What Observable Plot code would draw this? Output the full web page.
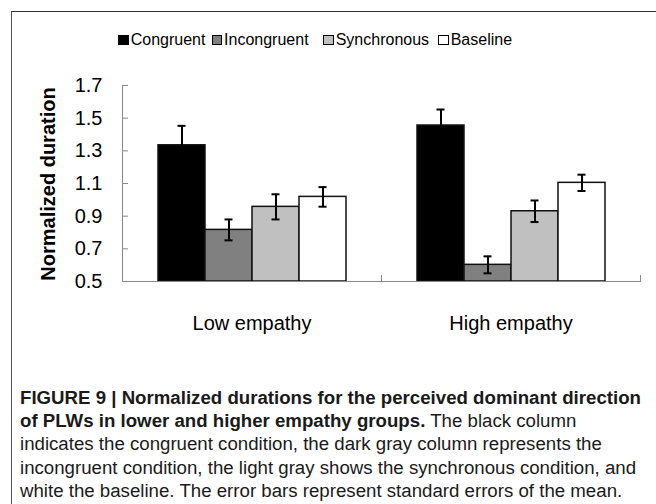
<!DOCTYPE html>
<html><head><meta charset="utf-8">
<script src="https://cdn.jsdelivr.net/npm/d3@7"></script>
<script src="https://cdn.jsdelivr.net/npm/@observablehq/plot@0.6"></script>
<style>
body{margin:0;background:#fff;}
#page{position:relative;width:656px;height:504px;overflow:hidden;font-family:"Liberation Sans",Arial,sans-serif;color:#000;}
#frame{position:absolute;left:10.5px;top:10.5px;width:700px;height:600px;border-top:1.5px solid #333;border-left:1.5px solid #555;}
.item{position:absolute;top:30.4px;height:20px;white-space:nowrap;font-size:16px;line-height:20px;}
.sw{position:absolute;left:0;top:4.6px;width:8.5px;height:8.5px;border:1px solid #000;}
.lt{position:absolute;left:12.4px;top:0;}
#ylabel{position:absolute;left:-82.5px;top:174px;width:260px;height:20px;line-height:20px;text-align:center;font-weight:bold;font-size:20px;transform:rotate(-90deg);white-space:nowrap;}
#chart{position:absolute;left:0;top:70px;}
#caption{position:absolute;left:20px;top:387px;font-family:"Liberation Sans",Arial,sans-serif;font-size:18px;line-height:23.2px;white-space:nowrap;color:#1a1a1a;transform-origin:0 0;}
#caption div{height:23.2px;}
</style></head>
<body><div id="page"><div id="frame"></div><div id="legend"></div><div id="ylabel">Normalized duration</div><div id="chart"></div>
<div id="caption"><div><span id="cap1"><b>FIGURE 9 | Normalized durations for the perceived dominant direction</b></span></div><div><b>of PLWs in lower and higher empathy groups.</b> The black column</div><div>indicates the congruent condition, the dark gray column represents the</div><div>incongruent condition, the light gray shows the synchronous condition, and</div><div>white the baseline. The error bars represent standard errors of the mean.</div></div>
</div>
<script>
const groups = ["Low empathy", "High empathy"];
const conditions = ["Congruent", "Incongruent", "Synchronous", "Baseline"];
const colors = ["#000000", "#808080", "#c0c0c0", "#ffffff"];
const lowMeans = [1.334, 0.816, 0.957, 1.018];
const lowSE = [0.119, 0.064, 0.077, 0.060];
const highMeans = [1.455, 0.602, 0.930, 1.104];
const highSE = [0.098, 0.052, 0.066, 0.050];
const yTicks = [0.5, 0.7, 0.9, 1.1, 1.3, 1.5, 1.7];

const data = [];
conditions.forEach((c, i) => {
  data.push({group: groups[0], condition: c, value: lowMeans[i], se: lowSE[i]});
  data.push({group: groups[1], condition: c, value: highMeans[i], se: highSE[i]});
});

// legend
const legendLeft = [118.3, 211.7, 323.3, 438.3];
const legend = document.getElementById("legend");
conditions.forEach((c, i) => {
  const it = document.createElement("div");
  it.className = "item";
  it.style.left = legendLeft[i] + "px";
  it.innerHTML = `<span class="sw" style="background:${colors[i]}"></span><span class="lt">${c}</span>`;
  legend.appendChild(it);
});

// condensed caption: fit first line to its width in the reference
const cap = document.getElementById("caption");
const w1 = document.getElementById("cap1").getBoundingClientRect().width;
cap.style.transform = `scaleX(${621 / w1})`;

const plot = Plot.plot({
  width: 656,
  height: 270,
  marginLeft: 121,
  marginRight: 16,
  marginTop: 15,
  marginBottom: 59,
  style: {fontFamily: "'Liberation Sans', Arial, sans-serif", background: "transparent"},
  fx: {domain: groups, padding: 0, label: null},
  x: {domain: conditions, paddingInner: 0, paddingOuter: 0.75, axis: null},
  y: {domain: [0.5, 1.7], label: null},
  color: {domain: conditions, range: colors},
  marks: [
    Plot.barY(data, {fx: "group", x: "condition", y1: 0.5, y2: "value", fill: "condition", stroke: "#111", strokeWidth: 1.5}),
    Plot.ruleX(data, {fx: "group", x: "condition", y1: d => d.value - d.se, y2: d => d.value + d.se, stroke: "#000", strokeWidth: 2}),
    Plot.tickY(data, {fx: "group", x: "condition", y: d => d.value + d.se, insetLeft: 19.5, insetRight: 19.5, stroke: "#000", strokeWidth: 2}),
    Plot.tickY(data, {fx: "group", x: "condition", y: d => d.value - d.se, insetLeft: 19.5, insetRight: 19.5, stroke: "#000", strokeWidth: 2}),
    Plot.ruleY([0.5], {stroke: "#888", strokeWidth: 1}),
    Plot.frame({anchor: "left", facet: "super", stroke: "#888", strokeWidth: 1}),
    Plot.frame({anchor: "right", insetTop: 190, stroke: "#888", strokeWidth: 1}),
    Plot.axisY(yTicks, {tickSize: -6, stroke: "#888", tickFormat: () => "", label: null}),
    Plot.axisY(yTicks, {tickSize: 0, tickPadding: 20, fontSize: 20, fill: "#000", tickFormat: d3.format(".1f"), label: null}),
    Plot.axisFx({anchor: "bottom", tickSize: 0, tickPadding: 34, fontSize: 20, label: null})
  ]
});
document.getElementById("chart").appendChild(plot);
</script>
</body></html>
